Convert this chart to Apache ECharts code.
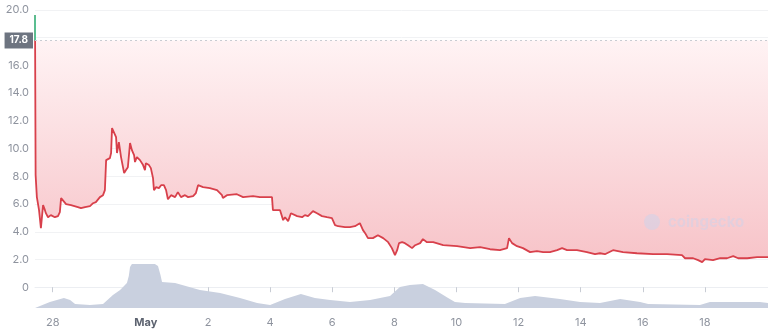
<!DOCTYPE html>
<html>
<head>
<meta charset="utf-8">
<script src="https://cdn.jsdelivr.net/npm/echarts@6/dist/echarts.min.js"></script>
<style>html,body{margin:0;padding:0;background:#fff}#c{width:768px;height:330px}</style>
</head>
<body>
<div id="c"></div>
<script>
// x values are days, 0 = the "May" tick
const priceDays = [-3.57,-3.55,-3.51,-3.44,-3.38,-3.31,-3.25,-3.22,-3.15,-3.06,-2.93,-2.83,-2.77,-2.73,-2.67,-2.57,-2.41,-2.19,-2.09,-1.96,-1.80,-1.70,-1.61,-1.48,-1.38,-1.32,-1.28,-1.16,-1.12,-1.09,-1.03,-0.96,-0.93,-0.87,-0.80,-0.77,-0.70,-0.64,-0.58,-0.51,-0.45,-0.38,-0.35,-0.29,-0.19,-0.09,-0.03,0.00,0.10,0.16,0.23,0.26,0.33,0.42,0.49,0.58,0.65,0.71,0.81,0.94,1.03,1.13,1.26,1.36,1.52,1.61,1.68,1.74,1.84,2.06,2.29,2.45,2.48,2.61,2.93,3.13,3.45,3.67,4.06,4.09,4.32,4.42,4.48,4.58,4.67,4.87,5.03,5.12,5.22,5.38,5.51,5.67,5.83,5.99,6.09,6.19,6.41,6.57,6.73,6.89,6.99,7.06,7.15,7.31,7.47,7.64,7.80,7.92,8.02,8.09,8.15,8.25,8.34,8.44,8.57,8.67,8.83,8.92,9.05,9.25,9.57,10.02,10.44,10.76,11.08,11.40,11.63,11.69,11.79,11.95,12.14,12.37,12.59,12.79,13.01,13.24,13.40,13.56,13.88,14.20,14.46,14.62,14.78,15.04,15.36,15.81,16.33,16.78,17.26,17.36,17.62,17.78,17.91,18.00,18.26,18.49,18.71,18.91,19.07,19.36,19.68,20.03];
const prices = [19.64,8.09,6.50,5.56,4.26,5.92,5.56,5.34,5.05,5.20,5.05,5.13,5.42,6.43,6.50,5.99,5.92,5.78,5.70,5.78,5.85,6.06,6.14,6.50,6.64,7.00,9.17,9.31,9.68,11.48,11.48,10.83,9.68,10.47,9.39,9.39,8.23,8.45,8.66,10.40,9.89,9.53,9.03,9.39,9.17,8.81,8.45,8.95,8.81,8.59,7.87,7.00,7.22,7.15,7.36,7.36,7.00,6.35,6.64,6.50,6.86,6.50,6.64,6.50,6.57,6.79,7.36,7.29,7.22,7.15,7.00,6.64,6.43,6.64,6.71,6.50,6.57,6.50,6.50,5.56,5.56,4.84,5.05,4.77,5.34,5.13,5.05,5.20,5.13,5.49,5.34,5.13,5.05,4.98,4.48,4.40,4.33,4.33,4.40,4.62,4.12,3.90,3.54,3.54,3.75,3.54,3.25,2.82,2.31,2.67,3.18,3.25,3.18,3.03,2.82,3.03,3.18,3.47,3.25,3.25,3.03,2.96,2.82,2.89,2.74,2.67,2.82,3.54,3.18,2.96,2.82,2.53,2.60,2.53,2.53,2.67,2.82,2.67,2.67,2.53,2.38,2.45,2.38,2.67,2.53,2.45,2.38,2.38,2.31,2.09,2.09,1.95,1.81,2.02,1.95,2.09,2.09,2.24,2.09,2.09,2.17,2.17];
const volumeDays = [-3.57,-3.09,-2.64,-2.44,-2.28,-1.80,-1.38,-1.06,-0.83,-0.61,-0.55,-0.51,-0.45,0.29,0.39,0.47,0.52,0.94,1.74,2.39,3.03,3.58,4.00,4.48,4.99,5.44,5.93,6.57,7.22,7.86,8.18,8.50,8.92,9.31,9.73,9.95,10.28,11.56,12.05,12.53,13.33,13.98,14.62,15.27,15.91,16.17,17.84,18.16,19.77,20.03];
const volumes = [0,6,10,8,4,3,4,13,18,25,32,41,44,44,42,33,26,25,18,15,10,5,3,9,14,10,8,6,8,12,21,23,24,18,10,6,5,4,10,12,9,6,5,9,6,4,3,6,6,5];
const baselinePrice = 17.8;
const xTickValues = [-3,0,2,4,6,8,10,12,14,16,18];
const xTickLabels = ['28','May','2','4','6','8','10','12','14','16','18'];
const yTickValues = [0,2,4,6,8,10,12,14,16,18,20];

const chart = echarts.init(document.getElementById('c'));
const xMin = priceDays[0], xMax = priceDays[priceDays.length-1];
// green part of the first drop: from the first point down to where it crosses the baseline
const f = (prices[0] - baselinePrice) / (prices[0] - prices[1]);
const greenPart = [[priceDays[0], prices[0]], [priceDays[0] + f * (priceDays[1] - priceDays[0]), baselinePrice]];

chart.setOption({
  animation: false,
  backgroundColor: '#fff',
  grid: [
    {left: 35, right: 0, top: 10, bottom: 22},
    {left: 35, right: 0, top: 208, bottom: 22}
  ],
  xAxis: [
    {type: 'value', gridIndex: 0, min: xMin, max: xMax,
     axisLine: {show: true, lineStyle: {color: '#eceef2'}},
     axisTick: {show: true, customValues: xTickValues, length: 5, lineStyle: {color: '#c8ccd4'}},
     axisLabel: {customValues: xTickValues, color: '#8e939e', fontSize: 11, fontFamily: 'Inter', margin: 9,
       formatter: v => { const i = xTickValues.indexOf(v); const s = i >= 0 ? xTickLabels[i] : ''; return s === 'May' ? '{b|May}' : s; },
       rich: {b: {fontWeight: 'bold', color: '#5d6370', fontSize: 11, fontFamily: 'Inter'}}},
     splitLine: {show: false}},
    {type: 'value', gridIndex: 1, min: xMin, max: xMax, show: false}
  ],
  yAxis: [
    {type: 'value', gridIndex: 0, min: -1.5, max: 20,
     axisLine: {show: false},
     axisTick: {show: false, customValues: yTickValues},
     axisLabel: {customValues: yTickValues, color: '#8e939e', fontSize: 11, fontFamily: 'Inter', margin: 6,
       formatter: v => v === 0 ? '0' : v.toFixed(1)},
     splitLine: {show: true, lineStyle: {color: '#f1f2f4', width: 1}}},
    {type: 'value', gridIndex: 1, min: 0, max: 100, show: false}
  ],
  graphic: [
    {type: 'circle', left: 644, top: 214, shape: {r: 8}, style: {fill: 'rgba(210,210,232,0.6)'}, z: 100},
    {type: 'text', left: 668, top: 215, style: {text: 'coingecko', font: 'bold 15px Inter', fill: 'rgba(210,210,232,0.55)'}, z: 100}
  ],
  series: [
    {type: 'line', xAxisIndex: 1, yAxisIndex: 1, data: volumeDays.map((d,i)=>[d, volumes[i]]),
     showSymbol: false, symbol: 'none', lineStyle: {width: 0}, areaStyle: {color: '#c9d0df', opacity: 1}, z: 1},
    {type: 'line', xAxisIndex: 0, yAxisIndex: 0, data: priceDays.map((d,i)=>[d, prices[i]]),
     showSymbol: false, symbol: 'none', lineStyle: {width: 1.8, color: '#d8404b'},
     areaStyle: {origin: baselinePrice, opacity: 1,
       color: new echarts.graphic.LinearGradient(0, 40, 0, 262, [{offset: 0, color: '#fff3f4'}, {offset: 1, color: '#f7c3c8'}], true)},
     markLine: {silent: true, symbol: 'none',
       lineStyle: {color: '#c9ccd2', type: [2, 3], width: 1},
       label: {position: 'start', formatter: baselinePrice.toFixed(1), backgroundColor: '#6d7480', color: '#fff',
         fontSize: 10, fontFamily: 'Inter', fontWeight: 'bold', padding: [3, 5], distance: 2},
       data: [{yAxis: baselinePrice}]},
     z: 3},
    {type: 'line', xAxisIndex: 0, yAxisIndex: 0, data: greenPart,
     showSymbol: false, symbol: 'none', lineStyle: {width: 1.8, color: '#4ec996'}, z: 4}
  ]
});
</script>
</body>
</html>
